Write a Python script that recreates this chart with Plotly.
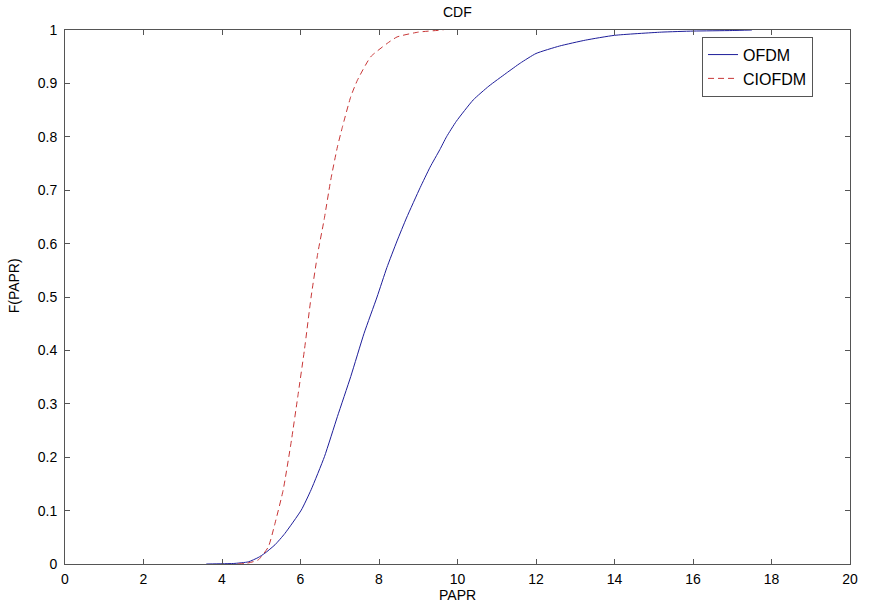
import plotly.graph_objects as go

# OFDM CDF
ofdm_x = [3.6, 4.0, 4.3, 4.67, 4.92, 5.09, 5.35, 5.60, 6.02, 6.27, 6.61, 6.94, 7.28, 7.62, 7.95,
          8.2, 8.46, 8.7, 9.05, 9.30, 9.55, 9.72, 9.97, 10.40, 10.8, 11.24, 11.6, 12.0, 12.6, 13.26,
          14.0, 15.19, 16.0, 17.0, 17.5]
ofdm_y = [0.0, 0.0005, 0.001, 0.004, 0.012, 0.020, 0.036, 0.057, 0.101, 0.139, 0.201, 0.276, 0.351,
          0.432, 0.50, 0.555, 0.605, 0.648, 0.705, 0.743, 0.776, 0.800, 0.829, 0.869, 0.895, 0.919,
          0.938, 0.956, 0.970, 0.981, 0.990, 0.996, 0.998, 0.999, 1.0]

# CIOFDM CDF
ciofdm_x = [4.4, 4.6, 4.92, 5.18, 5.35, 5.56, 5.77, 5.93, 6.10, 6.27, 6.44, 6.60, 6.77, 6.94,
            7.07, 7.28, 7.45, 7.79, 8.21, 8.46, 9.0, 9.64]
ciofdm_y = [0.0, 0.001, 0.0075, 0.032, 0.076, 0.139, 0.232, 0.313, 0.401, 0.50, 0.582, 0.644,
            0.719, 0.781, 0.819, 0.875, 0.906, 0.950, 0.975, 0.987, 0.996, 1.0]

x_ticks = [0, 2, 4, 6, 8, 10, 12, 14, 16, 18, 20]
y_ticks = [0, 0.1, 0.2, 0.3, 0.4, 0.5, 0.6, 0.7, 0.8, 0.9, 1]
y_tick_labels = ["0", "0.1", "0.2", "0.3", "0.4", "0.5", "0.6", "0.7", "0.8", "0.9", "1"]

FONT = "Liberation Sans, Arial, sans-serif"
AXC = "#555555"

fig = go.Figure()
fig.add_trace(go.Scatter(x=ofdm_x, y=ofdm_y, mode="lines", name="OFDM",
                         line=dict(color="#1e1e9a", width=1, shape="spline", smoothing=0.5)))
fig.add_trace(go.Scatter(x=ciofdm_x, y=ciofdm_y, mode="lines", name="CIOFDM",
                         line=dict(color="#c83636", width=1, dash="6px,4px", shape="spline", smoothing=0.5)))

fig.update_layout(
    width=870, height=607,
    margin=dict(l=65, r=13, t=30, b=43),
    paper_bgcolor="white", plot_bgcolor="white",
    font=dict(family=FONT, size=14, color="black"),
    showlegend=True,
    legend=dict(x=0.8115, y=0.9875, xanchor="left", yanchor="top",
                bgcolor="white", bordercolor=AXC, borderwidth=1, tracegroupgap=0,
                font=dict(family=FONT, size=16, color="black")),
    xaxis=dict(range=[0, 20], tickvals=x_ticks, ticks="inside", ticklen=5, tickcolor=AXC,
               showline=True, linecolor=AXC, linewidth=1, mirror="ticks", showgrid=False,
               zeroline=False, ticklabelstandoff=2),
    yaxis=dict(range=[0, 1], tickvals=y_ticks, ticktext=y_tick_labels, ticks="inside", ticklen=5,
               tickcolor=AXC, showline=True, linecolor=AXC, linewidth=1, mirror="ticks",
               showgrid=False, zeroline=False, ticklabelstandoff=4),
    annotations=[
        dict(text="CDF", xref="paper", yref="paper", x=0.5, y=1, yshift=18, showarrow=False,
             xanchor="center", yanchor="middle", font=dict(size=14)),
        dict(text="PAPR", xref="paper", yref="paper", x=0.5, y=0, yshift=-31, showarrow=False,
             xanchor="center", yanchor="middle", font=dict(size=14)),
        dict(text="F(PAPR)", xref="paper", yref="paper", x=0, xshift=-51, y=0.52, showarrow=False,
             xanchor="center", yanchor="middle", textangle=-90, font=dict(size=14)),
    ],
)

fig.write_html("out.html")
